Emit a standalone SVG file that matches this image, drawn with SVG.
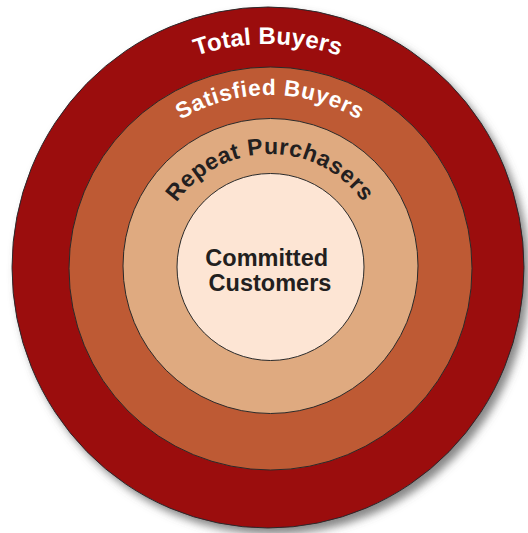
<svg xmlns="http://www.w3.org/2000/svg" width="528" height="533" viewBox="0 0 528 533">
  <style>
    .ring { stroke: #2a2a2a; stroke-width: 1; }
    .lbl { font-family: "Liberation Sans", Arial, Helvetica, sans-serif; font-weight: bold; }
    .w { fill: #ffffff; }
    .d { fill: #231f20; }
  </style>
  <defs>
    <filter id="shadow" x="-10%" y="-10%" width="130%" height="130%">
      <feDropShadow dx="5" dy="6" stdDeviation="4" flood-color="#555" flood-opacity="0.7"/>
    </filter>
    <path id="arcTotal" d="M 45 267 A 223 223 0 0 1 491 267"/>
    <path id="arcSatisfied" d="M 98 267 A 172 172 0 0 1 442 267"/>
    <path id="arcRepeat" d="M 156 268 A 114 114 0 0 1 384 268"/>
  </defs>

  <g id="total-buyers">
    <ellipse class="ring" cx="268" cy="267.5" rx="256" ry="260.5" fill="#9b0710" filter="url(#shadow)"/>
    <text class="lbl w" font-size="24" letter-spacing="0.2" text-anchor="middle"><textPath href="#arcTotal" startOffset="50%">Total Buyers</textPath></text>
  </g>

  <g id="satisfied-buyers">
    <circle class="ring" cx="270.5" cy="268.5" r="201.5" fill="#be5a34"/>
    <text class="lbl w" font-size="22.5" letter-spacing="0.7" text-anchor="middle"><textPath href="#arcSatisfied" startOffset="50%">Satisfied Buyers</textPath></text>
  </g>

  <g id="repeat-purchasers">
    <circle class="ring" cx="270.5" cy="266" r="147.5" fill="#dfaa80"/>
    <text class="lbl d" font-size="23" letter-spacing="0.6" text-anchor="middle"><textPath href="#arcRepeat" startOffset="50%">Repeat Purchasers</textPath></text>
  </g>

  <g id="committed-customers">
    <circle class="ring" cx="270.5" cy="267" r="93.5" fill="#fde5d4"/>
    <text class="lbl d" font-size="23.5" text-anchor="middle">
      <tspan x="270" y="266">Committed</tspan>
      <tspan x="270" y="290.5">Customers</tspan>
    </text>
  </g>
</svg>
